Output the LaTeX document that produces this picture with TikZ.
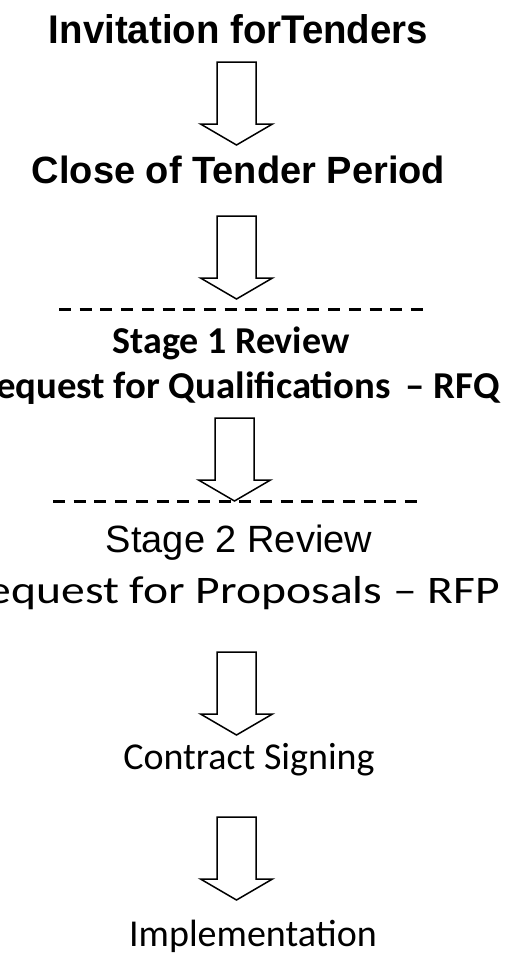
\documentclass[tikz,border=0pt]{standalone}
\usepackage{fontspec}
\newfontfamily\arialfont{Liberation Sans}
\newfontfamily\calfont{Carlito}
\usepackage{tikz}
\usetikzlibrary{positioning}

% hollow block arrow, top centre at the named coordinate
\newcommand{\blockarrow}[1]{%
  \draw[arrowline] ([xshift=-19.5pt]#1) -- ++(0,62) -- ++(-16.5,0)
    -- ([yshift=-83pt]#1) -- ([xshift=36pt,yshift=-62pt]#1) -- ++(-16.5,0)
    -- ([xshift=19.5pt]#1) -- cycle;}
% text stretched sideways
\newcommand{\widetext}[2]{\scalebox{#1}[1]{#2}}

\begin{document}
\begin{tikzpicture}[x=1pt, y=-1pt,
    arrowline/.style={line width=1.5pt, black, line join=miter},
    sepline/.style={line width=3pt, dash pattern=on 12pt off 8.7pt},
    headbold/.style={font=\arialfont\bfseries\fontsize{38}{40}\selectfont, inner sep=0pt},
    stagebold/.style={font=\calfont\bfseries\fontsize{38}{40}\selectfont, inner sep=0pt},
    stageplain/.style={font=\arialfont\fontsize{38}{40}\selectfont, inner sep=0pt},
    stepplain/.style={font=\calfont\fontsize{38}{40}\selectfont, inner sep=0pt}]
                \useasboundingbox (0,0) rectangle (505,956);
                \clip (0,0) rectangle (505,956);

                % Tender stages
                \node[headbold, font=\arialfont\bfseries\fontsize{40}{42}\selectfont, anchor=base] (invite) at (238.5,43) {\widetext{0.96}{Invitation forTenders}};
                \node[headbold, anchor=base] (close) at (238.5,183) {Close of Tender Period};

                % Stage 1
                \coordinate (sep1w) at (59,309);
                \coordinate (sep1e) at (424,309);
                \draw[sepline] (sep1w) -- (sep1e);
                \node[stagebold, anchor=base] (stage1) at (231,353) {Stage 1 Review};
                \node[stagebold, anchor=base east] (rfq) at (500,398) {\widetext{1.02}{Request for Qualifications \,– RFQ}};

                % Stage 2
                \coordinate (sep2w) at (53,501);
                \coordinate (sep2e) at (417,501);
                \draw[sepline] (sep2w) -- (sep2e);
                \node[stageplain, anchor=base] (stage2) at (239,552) {Stage 2 Review};
                \node[stepplain, font=\calfont\fontsize{39}{41}\selectfont, anchor=base east] (rfp) at (500,603) {\widetext{1.22}{Request for Proposals – RFP}};

                % Final steps
                \node[stepplain, anchor=base] (sign) at (249,769) {Contract Signing};
                \node[stepplain, anchor=base] (impl) at (253,946) {Implementation};

                % Block arrows
                \coordinate (arr1) at (236.5,62);
                \coordinate (arr2) at (236.5,216);
                \coordinate (arr3) at (234.5,418);
                \coordinate (arr4) at (236.5,652);
                \coordinate (arr5) at (236.5,817);
                \foreach \a in {arr1,arr2,arr3,arr4,arr5}
                    \blockarrow{\a};
            \end{tikzpicture}
\end{document}
